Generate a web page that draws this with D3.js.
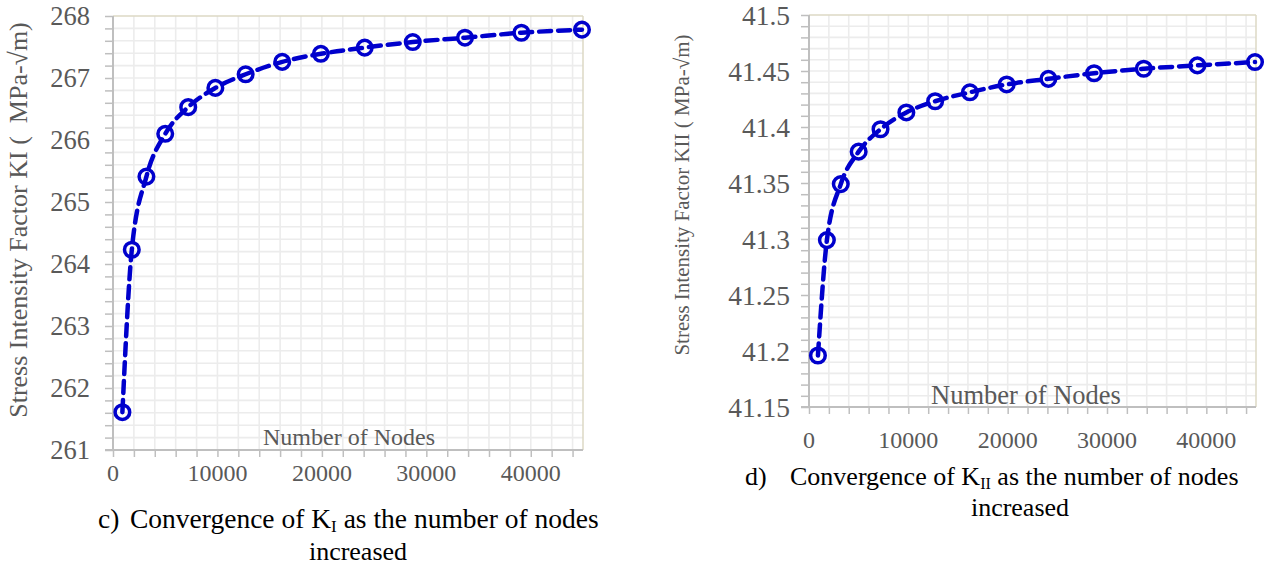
<!DOCTYPE html>
<html><head><meta charset="utf-8">
<script src="https://cdn.jsdelivr.net/npm/d3@7"></script>
<style>
body{margin:0;background:#fff;}
svg{display:block;font-family:"Liberation Serif","Times New Roman",serif;}
</style></head>
<body><svg id="c" width="1271" height="567" font-family="Liberation Serif, Times New Roman, serif"></svg>
<script>
// ---- data ----
const nodes = [900, 1800, 3200, 5000, 7200, 9800, 12700, 16200, 19900, 24100, 28700, 33700, 39100, 44900];
const kI  = [261.61, 264.23, 265.41, 266.10, 266.53, 266.84, 267.06, 267.26, 267.39, 267.49, 267.58, 267.65, 267.73, 267.78];
const kII = [41.196, 41.299, 41.349, 41.378, 41.398, 41.413, 41.423, 41.431, 41.438, 41.443, 41.448, 41.452, 41.455, 41.458];
const xTicks = [0, 10000, 20000, 30000, 40000];
const kITicks = [261, 262, 263, 264, 265, 266, 267, 268];
const kIITicks = [41.15, 41.2, 41.25, 41.3, 41.35, 41.4, 41.45, 41.5];

const svg = d3.select("#c");
const blue = "#0000cc", grid = "#ececec", axisC = "#bfbfbf", border = "#ddd9c4", txt = "#595959";

function chart(o){
  const x = d3.scaleLinear().domain([0,45000]).range([o.x0,o.x1]);
  const y = d3.scaleLinear().domain(o.yDom).range([o.y1,o.y0]);
  const g = svg.append("g");
  const xs = d3.range(0,45001,2000).concat([45000]);
  const ys = d3.range(0, Math.round((o.yDom[1]-o.yDom[0])/o.yMinor)+1).map(i=>o.yDom[0]+i*o.yMinor);
  g.selectAll(".vg").data(xs.filter(v=>v>0&&v<45000)).join("line")
    .attr("x1",d=>x(d)).attr("x2",d=>x(d)).attr("y1",o.y0).attr("y2",o.y1)
    .attr("stroke",grid).attr("stroke-width",1.6);
  g.selectAll(".hg").data(ys.slice(1,-1)).join("line")
    .attr("x1",o.x0).attr("x2",o.x1).attr("y1",d=>y(d)).attr("y2",d=>y(d))
    .attr("stroke",grid).attr("stroke-width",1.6);
  g.append("line").attr("x1",o.x0).attr("x2",o.x1).attr("y1",o.y0).attr("y2",o.y0).attr("stroke",border).attr("stroke-width",1.5);
  g.append("line").attr("x1",o.x1).attr("x2",o.x1).attr("y1",o.y0).attr("y2",o.y1).attr("stroke",border).attr("stroke-width",1.5);
  const ya = g.append("g").attr("transform",`translate(${o.x0},0)`)
    .call(d3.axisLeft(y).tickValues(ys).tickSize(8).tickFormat(""));
  const xa = g.append("g").attr("transform",`translate(0,${o.y1})`)
    .call(d3.axisBottom(x).tickValues(xs.slice(0,-1)).tickSize(7).tickFormat(""));
  [ya,xa].forEach(a=>{a.selectAll("path,line").attr("stroke",axisC).attr("stroke-width",1.5);});
  ya.select(".domain").attr("d",`M0,${o.y0}V${o.y1}`).attr("stroke-width",2);
  xa.select(".domain").attr("d",`M${o.x0-8},0H${o.x1}`).attr("stroke-width",2);
  g.selectAll(".yl").data(o.yTicks).join("text")
    .attr("x",o.x0-o.yLabOff).attr("y",d=>y(d)).attr("dy","0.35em").attr("text-anchor","end")
    .attr("font-size",o.yFont).attr("fill",txt).text(d=>d);
  g.selectAll(".xl").data(xTicks).join("text")
    .attr("x",d=>x(d)).attr("y",o.y1+o.xLabOff).attr("text-anchor","middle")
    .attr("font-size",24).attr("fill",txt).text(d=>d);
  g.append("text").attr("transform",`translate(${o.ytX},${o.ytY}) rotate(-90)`)
    .attr("text-anchor","middle").attr("font-size",o.ytFont).attr("fill",txt).text(o.yTitle);
  g.append("text").attr("x",o.xtX).attr("y",o.xtY).attr("text-anchor","middle")
    .attr("font-size",o.xtFont).attr("fill",txt).text("Number of Nodes");
  const pts = nodes.map((n,i)=>[n,o.vals[i]]);
  g.append("path").datum(pts).attr("fill","none").attr("stroke",blue).attr("stroke-width",4.5)
    .attr("stroke-dasharray","12,7").attr("stroke-linecap","round")
    .attr("d",d3.line().x(d=>x(d[0])).y(d=>y(d[1])).curve(d3.curveMonotoneX));
  g.selectAll(".pt").data(pts).join("circle").attr("cx",d=>x(d[0])).attr("cy",d=>y(d[1])).attr("r",7.3)
    .attr("fill","none").attr("stroke",blue).attr("stroke-width",3.5);
  g.append("text").attr("font-size",o.capFont).attr("fill","#000").attr("x",o.capX).attr("y",o.capY).text(o.capLetter);
  const t2 = g.append("text").attr("font-size",o.capFont).attr("fill","#000").attr("x",o.capX2).attr("y",o.capY);
  t2.append("tspan").text("Convergence of K");
  t2.append("tspan").attr("font-size",o.capFont*0.62).attr("dy",4).text(o.sub);
  t2.append("tspan").attr("dy",-4).text(" as the number of nodes");
  g.append("text").attr("font-size",o.incFont).attr("fill","#000").attr("x",o.incX).attr("y",o.capY+o.incDy)
    .attr("text-anchor","middle").text("increased");
}

chart({x0:113,x1:583,y0:16,y1:450,yDom:[261,268],yMinor:0.2,yTicks:kITicks,vals:kI,
  yFont:26.5,yLabOff:23,xLabOff:31,ytX:27,ytY:220,ytFont:26,yTitle:"Stress Intensity Factor KI (\u00a0 MPa-√m)",
  xtX:349,xtY:445,xtFont:24,capLetter:"c)",capX:98,capX2:130,capY:528,capFont:27.5,incFont:26,incDy:32,sub:"I",incX:358});
chart({x0:809,x1:1256,y0:15,y1:407,yDom:[41.15,41.5],yMinor:0.01,yTicks:kIITicks,vals:kII,
  yFont:27.5,yLabOff:19,xLabOff:41,ytX:689,ytY:195,ytFont:21,yTitle:"Stress Intensity Factor KII ( MPa-√m)",
  xtX:1026,xtY:404,xtFont:26.5,capLetter:"d)",capX:745,capX2:790,capY:485,capFont:26,incFont:26,incDy:31,sub:"II",incX:1020});
</script></body></html>
